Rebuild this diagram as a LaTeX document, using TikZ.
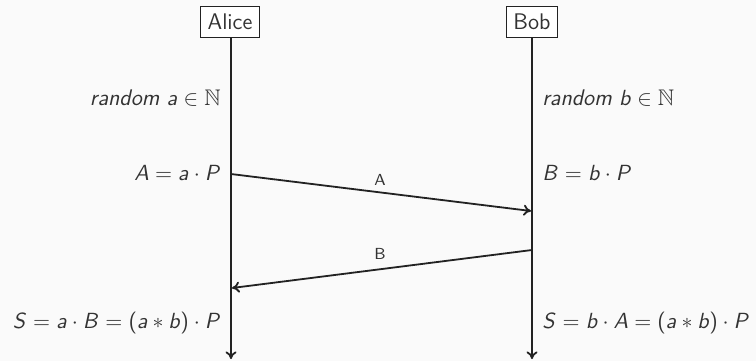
\documentclass[tikz,border=0pt]{standalone}
\usepackage{amssymb}
\usetikzlibrary{arrows.meta}
\DeclareSymbolFont{sfletters}{OT1}{cmss}{m}{sl}
\DeclareSymbolFont{sfops}{OT1}{cmss}{m}{n}
\DeclareMathSymbol{a}{\mathalpha}{sfletters}{`a}
\DeclareMathSymbol{b}{\mathalpha}{sfletters}{`b}
\DeclareMathSymbol{A}{\mathalpha}{sfletters}{`A}
\DeclareMathSymbol{B}{\mathalpha}{sfletters}{`B}
\DeclareMathSymbol{P}{\mathalpha}{sfletters}{`P}
\DeclareMathSymbol{S}{\mathalpha}{sfletters}{`S}
\DeclareMathSymbol{(}{\mathopen}{sfops}{"28}
\DeclareMathSymbol{)}{\mathclose}{sfops}{"29}
\definecolor{bg}{HTML}{FAFAFA}
\definecolor{ink}{HTML}{222222}
\definecolor{txt}{HTML}{333333}
\begin{document}
\begin{tikzpicture}[x=0.5pt,y=-0.5pt,
  actor/.style={draw=ink,line width=0.6pt,fill=white,text=txt,inner xsep=3.6pt,inner ysep=3.6pt,font=\sffamily\fontsize{11.3}{13}\selectfont},
  life/.style={draw=ink,line width=0.9pt,-{To[length=3.8pt,width=5.5pt]}},
  msg/.style={draw=ink,line width=0.9pt,-{To[length=3.8pt,width=5.5pt]}},
  lab/.style={text=txt,inner sep=0pt,font=\sffamily\fontsize{11.3}{13}\selectfont},
  msglab/.style={text=txt,inner sep=0pt,font=\sffamily\fontsize{8}{10}\selectfont}]
\fill[bg] (0,0) rectangle (756,361);
\useasboundingbox (0,0) rectangle (756,361);
\node[actor] (alice) at (230,22) {Alice};
\node[actor] (bob) at (532,22) {Bob};
\coordinate (aend) at (231,359);
\coordinate (bend) at (532,359);
\draw[life] (alice.south -| aend) -- (aend);
\draw[life] (bob.south) -- (bend);
\node[lab,anchor=east] (ra) at (221,98) {\textit{random} $a\in\mathbb{N}$};
\node[lab,anchor=west] (rb) at (542,98) {\textit{random} $b\in\mathbb{N}$};
\node[lab,anchor=east] (pa) at (221,173) {$A=a\cdot P$};
\node[lab,anchor=west] (pb) at (542,173) {$B=b\cdot P$};
\node[lab,anchor=east] (sa) at (221,323) {$S=a\cdot B=(a\ast b)\cdot P$};
\node[lab,anchor=west] (sb) at (542,323) {$S=b\cdot A=(a\ast b)\cdot P$};
\coordinate (a1) at (231,174);
\coordinate (b1) at (531,211);
\coordinate (b2) at (532,250);
\coordinate (a2) at (232,288);
\draw[msg] (a1) -- (b1);
\draw[msg] (b2) -- (a2);
\node[msglab] (la) at (380,180) {A};
\node[msglab] (lb) at (380,254) {B};
\end{tikzpicture}
\end{document}
